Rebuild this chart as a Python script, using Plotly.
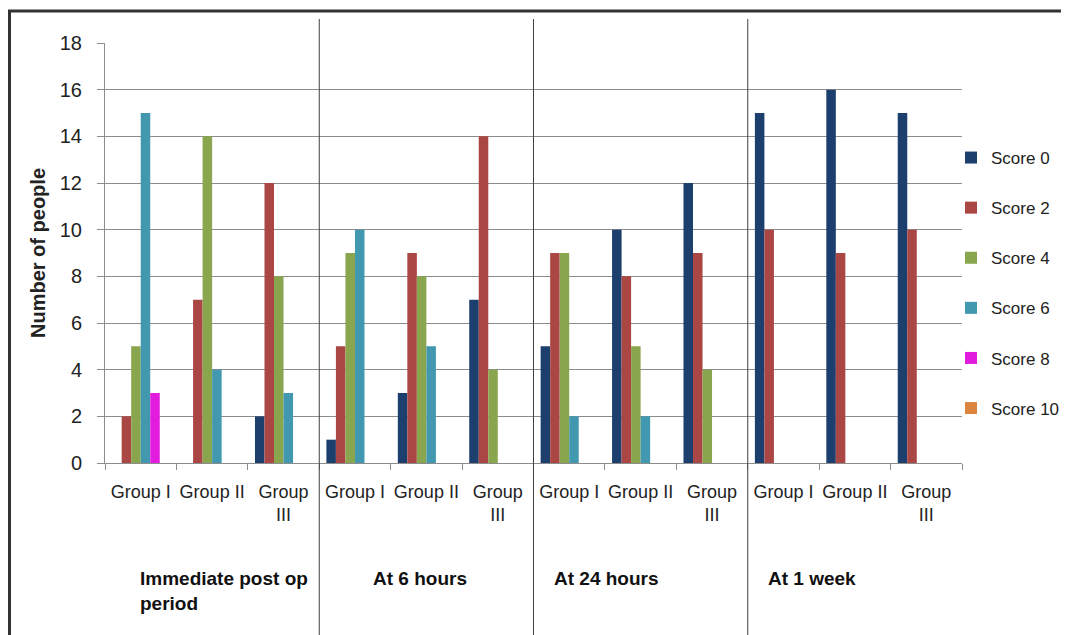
import plotly.graph_objects as go

# ---- data ----
groups = ["Group I", "Group II", "Group<br>III"]
periods = ["Immediate post op<br>period", "At 6 hours", "At 24 hours", "At 1 week"]
tick_labels = groups * 4

series_names = ["Score 0", "Score 2", "Score 4", "Score 6", "Score 8", "Score 10"]
score0 = [0, 0, 2, 1, 3, 7, 5, 10, 12, 15, 16, 15]
score2 = [2, 7, 12, 5, 9, 14, 9, 8, 9, 10, 9, 10]
score4 = [5, 14, 8, 9, 8, 4, 9, 5, 4, 0, 0, 0]
score6 = [15, 4, 3, 10, 5, 0, 2, 2, 0, 0, 0, 0]
score8 = [3, 0, 0, 0, 0, 0, 0, 0, 0, 0, 0, 0]
score10 = [0, 0, 0, 0, 0, 0, 0, 0, 0, 0, 0, 0]
series_values = [score0, score2, score4, score6, score8, score10]
colors = ["#1D3F6E", "#AA4643", "#89A54E", "#4198AF", "#E21CDD", "#DB843D"]

# ---- figure geometry (page pixels; the page body has an 8px margin) ----
OFF = 8
W, H = 1069 - OFF, 635 - OFF
L, R, T, B = 105 - OFF, 962 - OFF, 43 - OFF, 463 - OFF
pw, ph = R - L, B - T

def px_x(p):  # page px -> paper
    return (p - OFF - L) / pw

def px_y(p):
    return (B - (p - OFF)) / ph

xpos = list(range(len(tick_labels)))
fig = go.Figure()
for name, vals, col in zip(series_names, series_values, colors):
    fig.add_trace(go.Bar(x=xpos, y=vals, name=name, marker=dict(color=col, line=dict(width=0)),
                         legendgroup=name))

font_family = "Liberation Sans, Arial, sans-serif"
grid = "#8c8c8c"

fig.update_layout(
    width=W, height=H,
    margin=dict(l=L, r=W - R, t=T, b=H - B, autoexpand=False),
    paper_bgcolor="white", plot_bgcolor="white",
    barmode="group", bargap=0.2, bargroupgap=0,
    font=dict(family=font_family, size=18, color="#222222"),
    showlegend=True,
    legend=dict(x=px_x(951), xanchor="left", y=px_y(140), yanchor="top",
                tracegroupgap=25, font=dict(size=17), bgcolor="rgba(0,0,0,0)"),
    xaxis=dict(range=[-0.5, 11.5], tickmode="array", tickvals=xpos, ticktext=tick_labels,
               ticks="", showgrid=False, showline=True, linecolor=grid, linewidth=1,
               zeroline=False, ticklabelstandoff=12,
               minor=dict(tickmode="array", tickvals=[i - 0.5 for i in range(13)],
                          ticks="outside", ticklen=6, tickcolor=grid, showgrid=False)),
    yaxis=dict(range=[0, 18], dtick=2, showgrid=True, gridcolor=grid, gridwidth=1,
               showline=True, linecolor=grid, linewidth=1, ticks="outside", ticklen=7,
               tickcolor=grid, zeroline=False, ticklabelstandoff=11,
               tickfont=dict(size=20),
               title=dict(text="<b>Number of people</b>", font=dict(size=20), standoff=8)),
)

# separators between periods
for xb in [2.5, 5.5, 8.5]:
    fig.add_shape(type="line", xref="x", yref="paper", x0=xb, x1=xb,
                  y0=px_y(640), y1=px_y(19), line=dict(color="#404040", width=1))

# outer frame (top and left edges)
fig.add_shape(type="line", xref="paper", yref="paper", x0=px_x(8), x1=px_x(1080),
              y0=px_y(11), y1=px_y(11), line=dict(color="#333333", width=3))
fig.add_shape(type="line", xref="paper", yref="paper", x0=px_x(9.5), x1=px_x(9.5),
              y0=px_y(11), y1=px_y(645), line=dict(color="#333333", width=3))

# period labels
period_px = [138, 371, 552, 766]
for txt, pxx in zip(periods, period_px):
    fig.add_annotation(text="<b>" + txt + "</b>", xref="paper", yref="paper",
                       x=px_x(pxx), y=px_y(566), xanchor="left", yanchor="top",
                       align="left", showarrow=False, font=dict(size=19, color="#111111"))

fig.write_html("out.html")
